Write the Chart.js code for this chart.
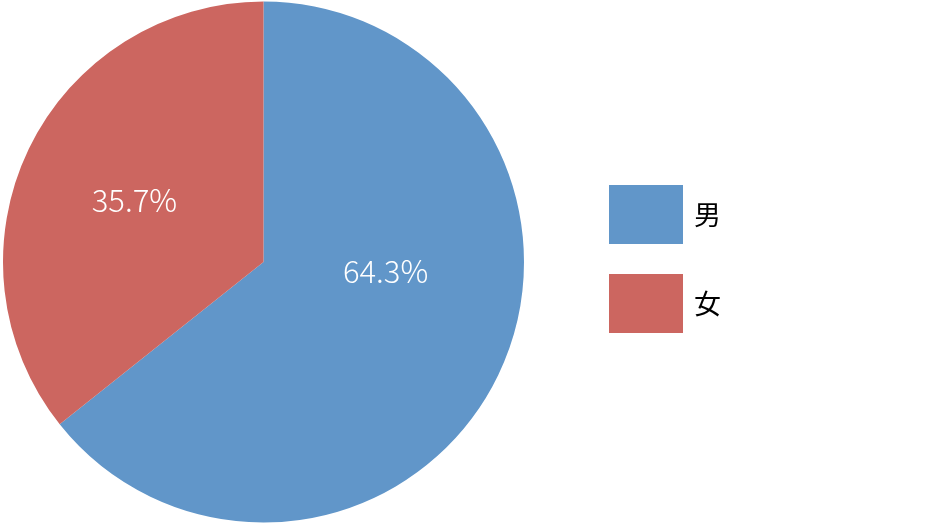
<!DOCTYPE html>
<html><head><meta charset="utf-8">
<script src="https://cdn.jsdelivr.net/npm/chart.js@4.4.1/dist/chart.umd.min.js"></script>
<style>html,body{margin:0;padding:0;background:#fff;}#wrap{width:940px;height:524px;}</style>
</head><body><div id="wrap"><canvas id="c" width="940" height="524"></canvas></div>
<script>
const categories = ['男', '女'];
const values = [64.3, 35.7];
const labels = ['64.3%', '35.7%'];
const colors = ['#6196C9', '#CC6660'];

const FONT = '"Noto Sans CJK JP", "Noto Sans", sans-serif';

const sliceLabels = {
  id: 'sliceLabels',
  afterDatasetsDraw(chart) {
    const ctx = chart.ctx;
    const meta = chart.getDatasetMeta(0);
    // angle shift (rad) and radius fraction per slice, to mimic the reference placement
    const tweak = [{da: -0.37, rf: 0.47}, {da: 0.0, rf: 0.55}];
    ctx.save();
    ctx.fillStyle = '#ffffff';
    ctx.font = '300 31px ' + FONT;
    ctx.textAlign = 'center';
    ctx.textBaseline = 'middle';
    meta.data.forEach((arc, i) => {
      const p = arc.getProps(['x', 'y', 'startAngle', 'endAngle', 'outerRadius'], true);
      const mid = (p.startAngle + p.endAngle) / 2 + tweak[i].da;
      const r = p.outerRadius * tweak[i].rf;
      ctx.fillText(labels[i], p.x + Math.cos(mid) * r, p.y + Math.sin(mid) * r);
    });
    ctx.restore();
  }
};

const boxLegend = {
  id: 'boxLegend',
  afterDraw(chart) {
    const ctx = chart.ctx;
    ctx.save();
    const x0 = 609, y0 = 185, w = 74, h = 59, gap = 89;
    ctx.font = '27px ' + FONT;
    ctx.textBaseline = 'middle';
    ctx.textAlign = 'left';
    categories.forEach((c, i) => {
      const y = y0 + i * gap;
      ctx.fillStyle = colors[i];
      ctx.fillRect(x0, y, w, h);
      ctx.fillStyle = '#000000';
      ctx.fillText(c, x0 + w + 11, y + h / 2);
    });
    ctx.restore();
  }
};

new Chart(document.getElementById('c'), {
  type: 'pie',
  data: {
    labels: categories,
    datasets: [{ data: values, backgroundColor: colors, borderWidth: 0 }]
  },
  options: {
    responsive: false,
    animation: false,
    layout: { padding: { left: 3, top: 1, right: 416, bottom: 1 } },
    plugins: { legend: { display: false }, tooltip: { enabled: false } }
  },
  plugins: [sliceLabels, boxLegend]
});
</script>
</body></html>
